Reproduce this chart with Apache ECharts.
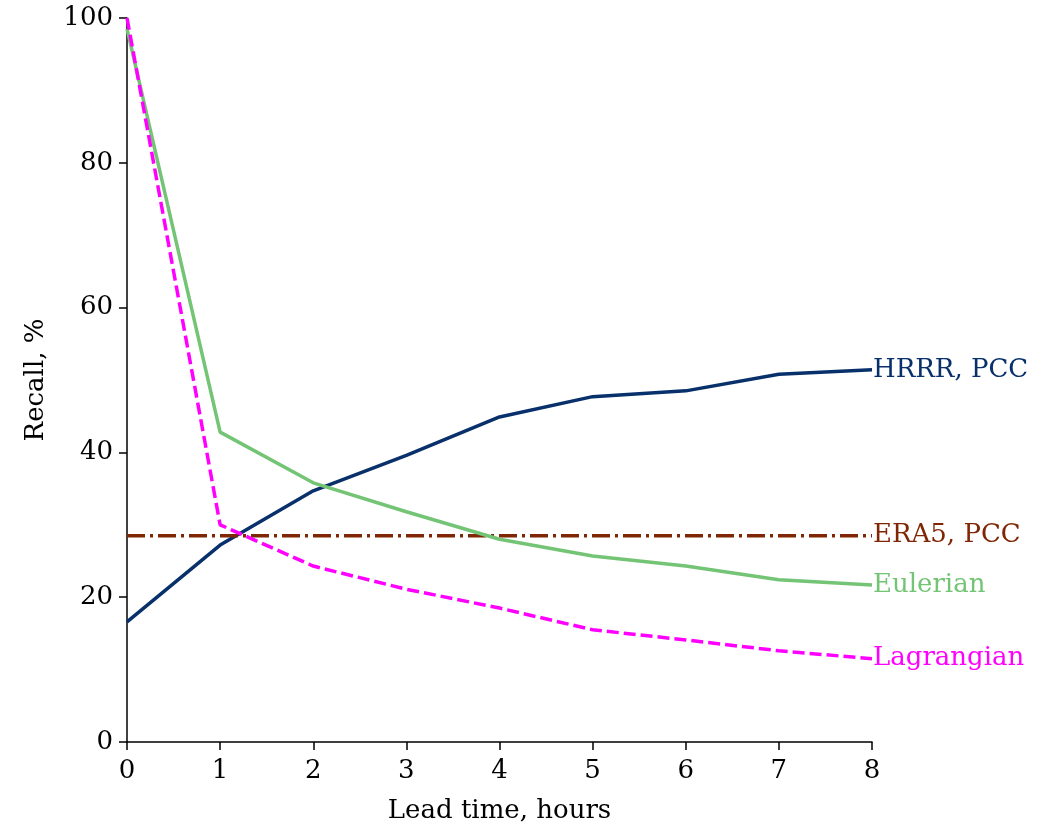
<!DOCTYPE html>
<html lang="en">
<head>
<meta charset="UTF-8">
<title>Recall vs lead time</title>
<script src="https://cdn.jsdelivr.net/npm/echarts@6/dist/echarts.min.js"></script>
<style>
  html, body { margin: 0; padding: 0; background: #fff; }
  #main { width: 1058px; height: 825px; }
</style>
</head>
<body>
<div id="main"></div>
<script>
// lead time, hours
var leadHours = [0, 1, 2, 3, 4, 5, 6, 7, 8];
// recall, %
var hrrrPcc = [16.6, 27.2, 34.7, 39.6, 44.9, 47.7, 48.5, 50.8, 51.4];
var era5Pcc = [28.5, 28.5, 28.5, 28.5, 28.5, 28.5, 28.5, 28.5, 28.5];
var eulerian = [98.5, 42.8, 35.8, 31.8, 28.0, 25.7, 24.3, 22.4, 21.7];
var lagrangian = [100, 30.0, 24.3, 21.1, 18.5, 15.5, 14.1, 12.6, 11.5];

var font = 'DejaVu Serif';

function pairs(ys) {
  return leadHours.map(function (x, i) { return [x, ys[i]]; });
}

function line(name, ys, color, type) {
  return {
    name: name,
    type: 'line',
    data: pairs(ys),
    showSymbol: false,
    animation: false,
    lineStyle: { color: color, width: 3.5, type: type },
    endLabel: {
      show: true,
      formatter: '{a}',
      color: color,
      fontFamily: font,
      fontSize: 26,
      distance: 1
    }
  };
}

var chart = echarts.init(document.getElementById('main'));
chart.setOption({
  backgroundColor: '#fff',
  grid: { left: 127, right: 186, top: 18, bottom: 83, outerBoundsMode: 'none', containLabel: false },
  xAxis: {
    type: 'value',
    min: 0, max: 8, interval: 1,
    name: 'Lead time, hours',
    nameLocation: 'middle',
    nameGap: 56,
    nameTextStyle: { fontFamily: font, fontSize: 26, color: '#000' },
    axisLine: { lineStyle: { color: '#000', width: 1.5 } },
    axisTick: { lineStyle: { color: '#000', width: 1.5 }, length: 8 },
    axisLabel: { fontFamily: font, fontSize: 26, color: '#000', margin: 16 },
    splitLine: { show: false }
  },
  yAxis: {
    type: 'value',
    min: 0, max: 100, interval: 20,
    name: 'Recall, %',
    nameLocation: 'middle',
    nameRotate: 90,
    nameGap: 78,
    nameTextStyle: { fontFamily: font, fontSize: 26, color: '#000' },
    axisLine: { show: true, lineStyle: { color: '#000', width: 1.5 } },
    axisTick: { show: true, lineStyle: { color: '#000', width: 1.5 }, length: 8 },
    axisLabel: { fontFamily: font, fontSize: 26, color: '#000', margin: 14 },
    splitLine: { show: false }
  },
  series: [
    line('HRRR, PCC', hrrrPcc, '#08306b', 'solid'),
    line('ERA5, PCC', era5Pcc, '#7f2704', [18, 5, 3, 5]),
    line('Eulerian', eulerian, '#74c476', 'solid'),
    line('Lagrangian', lagrangian, '#ff00ff', [12, 5])
  ]
});
</script>
</body>
</html>
